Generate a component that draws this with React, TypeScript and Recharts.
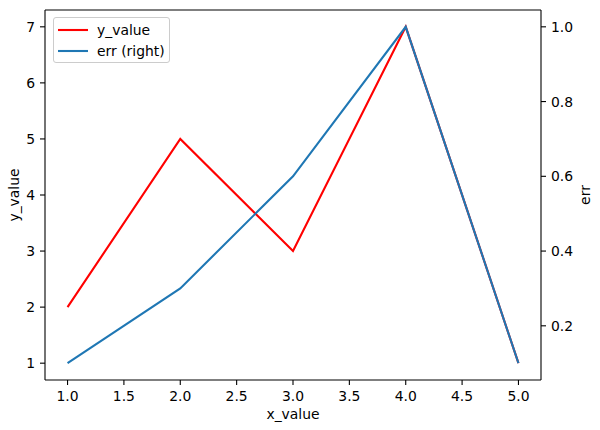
import React from "react"
import { LineChart, Line, XAxis, YAxis, Legend, ReferenceLine } from "recharts"

const xValues = [1, 2, 3, 4, 5]
const yValues = [2, 5, 3, 7, 1]
const errValues = [0.1, 0.3, 0.6, 1.0, 0.1]

const xTicks = [1, 1.5, 2, 2.5, 3, 3.5, 4, 4.5, 5]
const leftTicks = [1, 2, 3, 4, 5, 6, 7]
const rightTicks = [0.2, 0.4, 0.6, 0.8, 1.0]
const legendOrder = ["y_value", "err"]

const data = xValues.map((x, i) => ({ x, y_value: yValues[i], err: errValues[i] }))

const FONT = "'DejaVu Sans', sans-serif"
const tickStyle = { fontFamily: FONT, fontSize: 13.9, fill: "#000" }
const axisStroke = { stroke: "#000", strokeWidth: 1.1 }

function axisLabel(text: string, dx: number, dy: number, rotate: boolean) {
  return (props: any) => {
    const vb = props.viewBox || { x: 0, y: 0, width: 0, height: 0 }
    const cx = rotate ? vb.x + dx : vb.x + vb.width / 2
    const cy = rotate ? vb.y + vb.height / 2 : vb.y + dy
    return (
      <text
        x={cx}
        y={cy}
        textAnchor="middle"
        dominantBaseline="central"
        transform={rotate ? `rotate(-90 ${cx} ${cy})` : undefined}
        style={{ fontFamily: FONT, fontSize: 13.9, fill: "#000" }}
      >
        {text}
      </text>
    )
  }
}

function LegendBox({ payload }: any) {
  const items = [...(payload || [])].sort(
    (a: any, b: any) => legendOrder.indexOf(a.dataKey) - legendOrder.indexOf(b.dataKey)
  )
  return (
    <div
      style={{
        position: "relative",
        width: 117,
        height: 46,
        boxSizing: "border-box",
        border: "1px solid #cccccc",
        borderRadius: 3,
        background: "rgba(255,255,255,0.8)",
        fontFamily: FONT,
        fontSize: 13.9,
      }}
    >
      {items.map((item: any, i: number) => (
        <div key={item.value} style={{ position: "absolute", left: 0, top: 12 + i * 21 - 9, height: 18, width: "100%" }}>
          <svg width={40} height={18} style={{ position: "absolute", left: 0, top: 0 }}>
            <line x1={4} x2={34} y1={9} y2={9} stroke={item.color} strokeWidth={2.1} />
          </svg>
          <span style={{ position: "absolute", left: 43, top: 0, lineHeight: "18px", color: "#000", whiteSpace: "nowrap" }}>
            {item.value}
          </span>
        </div>
      ))}
    </div>
  )
}

export default function App() {
  return (
    <div style={{ position: "absolute", left: 0, top: 0, background: "#fff" }}>
      <LineChart width={600} height={430} data={data} margin={{ top: 10, right: 0, bottom: 0, left: 0 }}>
        <XAxis
          dataKey="x"
          type="number"
          domain={[0.8, 5.2]}
          ticks={xTicks}
          tickFormatter={(v) => Number(v).toFixed(1)}
          height={50}
          tickSize={5}
          tickMargin={6}
          tick={tickStyle}
          axisLine={axisStroke}
          tickLine={axisStroke}
          interval={0}
          label={axisLabel("x_value", 0, 34, false)}
        />
        <YAxis
          yAxisId="left"
          orientation="left"
          type="number"
          domain={[0.7, 7.3]}
          ticks={leftTicks}
          width={45}
          tickSize={5}
          tickMargin={5}
          tick={tickStyle}
          axisLine={axisStroke}
          tickLine={axisStroke}
          interval={0}
          label={axisLabel("y_value", 14, 0, true)}
        />
        <YAxis
          yAxisId="right"
          orientation="right"
          type="number"
          domain={[0.055, 1.045]}
          ticks={rightTicks}
          tickFormatter={(v) => Number(v).toFixed(1)}
          width={59}
          tickSize={5}
          tickMargin={5}
          tick={tickStyle}
          axisLine={axisStroke}
          tickLine={axisStroke}
          interval={0}
          label={axisLabel("err", 44, 0, true)}
        />
        <ReferenceLine yAxisId="left" y={7.3} stroke="#000" strokeWidth={1.1} ifOverflow="extendDomain" />
        <Legend
          layout="vertical"
          align="center"
          verticalAlign="middle"
          wrapperStyle={{ left: 53, top: 17, width: 117, height: 46 }}
          content={<LegendBox />}
        />
        <Line
          yAxisId="left"
          type="linear"
          dataKey="y_value"
          name="y_value"
          stroke="#ff0000"
          strokeWidth={2.1}
          dot={false}
          isAnimationActive={false}
        />
        <Line
          yAxisId="right"
          type="linear"
          dataKey="err"
          name="err (right)"
          stroke="#1f77b4"
          strokeWidth={2.1}
          dot={false}
          isAnimationActive={false}
        />
      </LineChart>
    </div>
  )
}
